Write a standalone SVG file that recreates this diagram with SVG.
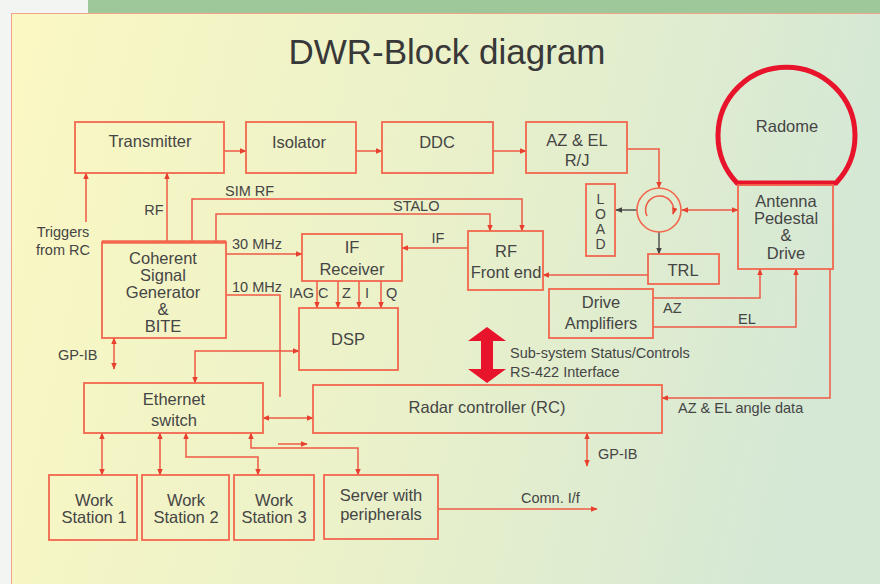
<svg xmlns="http://www.w3.org/2000/svg" width="880" height="584" viewBox="0 0 880 584">
<defs>
<linearGradient id="bg" x1="0" y1="0" x2="1" y2="0.15">
<stop offset="0" stop-color="#fbf8c3"/>
<stop offset="0.5" stop-color="#ebf1c9"/>
<stop offset="1" stop-color="#d5e8d5"/>
</linearGradient>
<marker id="a" viewBox="0 0 10 10" refX="9" refY="5" markerWidth="7" markerHeight="7" markerUnits="userSpaceOnUse" orient="auto-start-reverse">
<path d="M0,1 L10,5 L0,9 z" fill="#e8402f"/>
</marker>
<marker id="d" viewBox="0 0 10 10" refX="9" refY="5" markerWidth="7" markerHeight="7" markerUnits="userSpaceOnUse" orient="auto-start-reverse">
<path d="M0,1 L10,5 L0,9 z" fill="#444"/>
</marker>
<style>
.box{fill:none;stroke:#f2674e;stroke-width:1.8}
.ln{fill:none;stroke:#ee5a45;stroke-width:1.5}
.dk{fill:none;stroke:#555;stroke-width:1.5}
.t{font-family:"Liberation Sans",Arial,sans-serif;font-size:16.5px;fill:#454545;text-anchor:middle}
.l{font-family:"Liberation Sans",Arial,sans-serif;font-size:14.5px;fill:#454545}
.c{text-anchor:middle}
.s{font-size:14px}
</style>
</defs>
<rect x="0" y="0" width="880" height="584" fill="#f3f5f3"/>
<rect x="88" y="0" width="792" height="14" fill="#9ec79a"/>
<rect x="11.5" y="13.5" width="869" height="571" fill="url(#bg)" stroke="#f2a488" stroke-width="1"/>
<text x="447" y="64" font-family="'Liberation Sans',Arial,sans-serif" font-size="35" fill="#383838" text-anchor="middle">DWR-Block diagram</text>

<g id="connectors">
<path class="ln" d="M224,151 H246" marker-end="url(#a)"/>
<path class="ln" d="M356,151 H382" marker-end="url(#a)"/>
<path class="ln" d="M493,151 H526" marker-end="url(#a)"/>
<path class="ln" d="M627,149 H659 V188" marker-end="url(#a)"/>
<path class="dk" d="M637,210 H616" marker-end="url(#d)"/>
<path class="dk" d="M659,232 V254" marker-end="url(#d)"/>
<path class="ln" d="M682,210 H738" marker-start="url(#a)" marker-end="url(#a)"/>
<path class="ln" d="M648,275 H543" marker-end="url(#a)"/>
<path class="ln" d="M830,269 V398 H662" marker-end="url(#a)"/>
<path class="ln" d="M653,298 H760 V269" marker-end="url(#a)"/>
<path class="ln" d="M653,327 H796 V269" marker-end="url(#a)"/>
<path class="ln" d="M468,248 H402" marker-end="url(#a)"/>
<path class="ln" d="M192,242 V199 H522 V231" marker-end="url(#a)"/>
<path class="ln" d="M216,242 V214 H490 V231" marker-end="url(#a)"/>
<path class="ln" d="M226,254 H302" marker-end="url(#a)"/>
<path class="ln" d="M226,295 H280 V397"/>
<path class="ln" d="M317,281 V308" marker-end="url(#a)"/>
<path class="ln" d="M338,281 V308" marker-end="url(#a)"/>
<path class="ln" d="M359,281 V308" marker-end="url(#a)"/>
<path class="ln" d="M381,281 V308" marker-end="url(#a)"/>
<path class="ln" d="M299,351 H195 V383" marker-start="url(#a)" marker-end="url(#a)"/>
<path class="ln" d="M263,418 H313" marker-start="url(#a)" marker-end="url(#a)"/>
<path class="ln" d="M587,433 V466" marker-start="url(#a)" marker-end="url(#a)"/>
<path class="ln" d="M438,509 H597" marker-end="url(#a)"/>
<path class="ln" d="M102,433 V475" marker-start="url(#a)" marker-end="url(#a)"/>
<path class="ln" d="M160,433 V475" marker-start="url(#a)" marker-end="url(#a)"/>
<path class="ln" d="M186,433 V457 H258 V475" marker-start="url(#a)" marker-end="url(#a)"/>
<path class="ln" d="M251,433 V448 H358 V475" marker-start="url(#a)" marker-end="url(#a)"/>
<path class="ln" d="M278,444 H307" marker-end="url(#a)"/>
<path class="ln" d="M114,338 V369" marker-start="url(#a)" marker-end="url(#a)"/>
<path class="ln" d="M86,222 V173" marker-end="url(#a)"/>
<path class="ln" d="M167,242 V173" marker-end="url(#a)"/>
<polygon points="487,327 506,341 493,341 493,369 506,369 487,383 468,369 481,369 481,341 468,341" fill="#e8142c"/>
</g>

<g id="labels">
<text class="l c" x="63" y="237">Triggers</text>
<text class="l c" x="63" y="255">from RC</text>
<text class="l c" x="154" y="215">RF</text>
<text class="l" x="225" y="196">SIM RF</text>
<text class="l" x="393" y="211">STALO</text>
<text class="l" x="232" y="249">30 MHz</text>
<text class="l" x="232" y="292">10 MHz</text>
<text class="l c" x="438" y="243">IF</text>
<text class="l" x="289" y="298">IAG</text>
<text class="l" x="318" y="298">C</text>
<text class="l" x="342" y="298">Z</text>
<text class="l" x="365" y="298">I</text>
<text class="l" x="386" y="298">Q</text>
<text class="l" x="663" y="313">AZ</text>
<text class="l" x="738" y="324">EL</text>
<text class="l" x="510" y="358">Sub-system Status/Controls</text>
<text class="l" x="510" y="377">RS-422 Interface</text>
<text class="l" x="678" y="413">AZ &amp; EL angle data</text>
<text class="l" x="58" y="360">GP-IB</text>
<text class="l" x="598" y="459">GP-IB</text>
<text class="l" x="521" y="503">Comn. I/f</text>
</g>

<g id="transmitter"><rect class="box" x="75" y="122" width="149" height="51"/><text class="t" x="150" y="147">Transmitter</text></g>
<g id="isolator"><rect class="box" x="246" y="122" width="110" height="51"/><text class="t" x="299" y="148">Isolator</text></g>
<g id="ddc"><rect class="box" x="382" y="122" width="111" height="51"/><text class="t" x="437" y="148">DDC</text></g>
<g id="rj"><rect class="box" x="526" y="122" width="101" height="51"/><text class="t" x="577" y="146">AZ &amp; EL</text><text class="t" x="577" y="166">R/J</text></g>
<g id="circulator"><circle cx="659" cy="210" r="22" fill="none" stroke="#f2674e" stroke-width="1.6"/><path class="ln" d="M647,216 A14,14 0 1 1 673,214" marker-end="url(#a)"/></g>
<g id="load"><rect class="box" x="586" y="184" width="29" height="72"/><text class="t s" x="600.5" y="204">L</text><text class="t s" x="600.5" y="219">O</text><text class="t s" x="600.5" y="234">A</text><text class="t s" x="600.5" y="249">D</text></g>
<g id="trl"><rect class="box" x="648" y="254" width="71" height="30"/><text class="t" x="683" y="276">TRL</text></g>
<g id="radome"><path d="M737,183 A68.5,68.5 0 1 1 836,183 Z" fill="none" stroke="#e8142c" stroke-width="5"/><text class="t" x="787" y="132">Radome</text></g>
<g id="antenna"><rect class="box" x="738" y="185" width="95" height="84"/><text class="t" x="786" y="207">Antenna</text><text class="t" x="786" y="224">Pedestal</text><text class="t" x="786" y="241">&amp;</text><text class="t" x="786" y="259">Drive</text></g>
<g id="drive-amplifiers"><rect class="box" x="549" y="289" width="104" height="49"/><text class="t" x="601" y="308">Drive</text><text class="t" x="601" y="329">Amplifiers</text></g>
<g id="rf-front-end"><rect class="box" x="468" y="231" width="75" height="59"/><text class="t" x="506" y="257">RF</text><text class="t" x="506" y="278">Front end</text></g>
<g id="if-receiver"><rect class="box" x="302" y="234" width="100" height="47"/><text class="t" x="352" y="253">IF</text><text class="t" x="352" y="275">Receiver</text></g>
<g id="csg"><rect class="box" x="102" y="242" width="124" height="96"/><path d="M102,242 H226" stroke="#f2674e" stroke-width="3.5"/><text class="t" x="163" y="264">Coherent</text><text class="t" x="163" y="281">Signal</text><text class="t" x="163" y="298">Generator</text><text class="t" x="163" y="315">&amp;</text><text class="t" x="163" y="332">BITE</text></g>
<g id="dsp"><rect class="box" x="299" y="308" width="99" height="62"/><text class="t" x="348" y="345">DSP</text></g>
<g id="ethernet"><rect class="box" x="84" y="383" width="179" height="50"/><text class="t" x="174" y="405">Ethernet</text><text class="t" x="174" y="426">switch</text></g>
<g id="radar-controller"><rect class="box" x="313" y="385" width="349" height="48"/><text class="t" x="487" y="413">Radar controller (RC)</text></g>
<g id="ws1"><rect class="box" x="49" y="475" width="88" height="65"/><text class="t" x="94" y="506">Work</text><text class="t" x="94" y="523">Station 1</text></g>
<g id="ws2"><rect class="box" x="142" y="475" width="87" height="65"/><text class="t" x="186" y="506">Work</text><text class="t" x="186" y="523">Station 2</text></g>
<g id="ws3"><rect class="box" x="234" y="475" width="80" height="65"/><text class="t" x="274" y="506">Work</text><text class="t" x="274" y="523">Station 3</text></g>
<g id="server"><rect class="box" x="324" y="475" width="114" height="64"/><text class="t" x="381" y="501">Server with</text><text class="t" x="381" y="520">peripherals</text></g>
</svg>
